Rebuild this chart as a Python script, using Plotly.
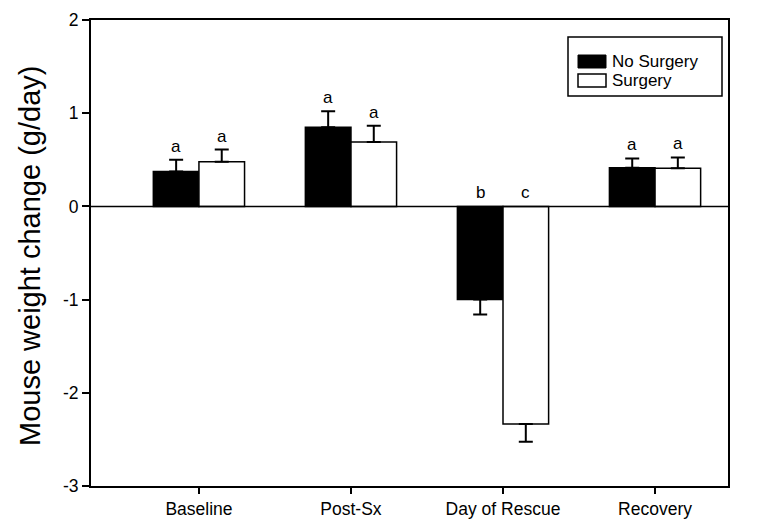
import plotly.graph_objects as go

categories = ["Baseline", "Post-Sx", "Day of Rescue", "Recovery"]
no_surgery = [0.375, 0.85, -1.0, 0.415]
no_surgery_err = [0.125, 0.17, 0.16, 0.10]
surgery = [0.48, 0.69, -2.335, 0.41]
surgery_err = [0.13, 0.175, 0.19, 0.115]
letters_no = ["a", "a", "b", "a"]
letters_sx = ["a", "a", "c", "a"]
y_ticks = [-3, -2, -1, 0, 1, 2]
y_ticklabels = ["-3", "-2", "-1", "0", "1", "2"]

FONT = "Arial, Liberation Sans, sans-serif"
xpos = list(range(len(categories)))

W, H = 760, 520
# target plot box in screen pixels
X0, X1, Y0, Y1 = 83, 720, 12, 478
L, T = X0, Y0
R, B = W - X1, H - Y1
PW, PH = X1 - X0, Y1 - Y0


def err_arrays(vals, errs):
    up = [e if v >= 0 else 0 for v, e in zip(vals, errs)]
    down = [e if v < 0 else 0 for v, e in zip(vals, errs)]
    return up, down


def px(x):
    return (x - X0) / PW


def py(y):
    return (Y1 - y) / PH


fig = go.Figure()
for name, vals, errs, fill in [("No Surgery", no_surgery, no_surgery_err, "black"),
                               ("Surgery", surgery, surgery_err, "white")]:
    up, down = err_arrays(vals, errs)
    fig.add_trace(go.Bar(
        x=xpos, y=vals, name=name,
        marker=dict(color=fill, line=dict(color="black", width=1.5)),
        error_y=dict(type="data", symmetric=False, array=up, arrayminus=down,
                     color="black", thickness=2, width=7),
    ))

# significance letters
offset = 0.15
for i in range(len(categories)):
    for vals, errs, letters, dx in [(no_surgery, no_surgery_err, letters_no, -offset),
                                    (surgery, surgery_err, letters_sx, offset)]:
        top = vals[i] + errs[i] if vals[i] >= 0 else 0
        fig.add_annotation(x=xpos[i] + dx, y=top, text=letters[i], showarrow=False,
                           yanchor="bottom", yshift=2,
                           font=dict(family=FONT, size=17, color="black"))

# zero line
fig.add_shape(type="line", xref="paper", x0=0, x1=1, yref="y", y0=0, y1=0,
              line=dict(color="black", width=1.5), layer="above")

# manual legend
fig.add_shape(type="rect", xref="paper", yref="paper",
              x0=px(560), x1=px(714), y0=py(88), y1=py(29),
              line=dict(color="black", width=1.5), fillcolor="white")
fig.add_shape(type="rect", xref="paper", yref="paper",
              x0=px(570), x1=px(598), y0=py(60), y1=py(47),
              line=dict(color="black", width=1), fillcolor="black")
fig.add_shape(type="rect", xref="paper", yref="paper",
              x0=px(570), x1=px(598), y0=py(79), y1=py(66),
              line=dict(color="black", width=1.5), fillcolor="white")
for txt, yc in [("No Surgery", 53), ("Surgery", 72)]:
    fig.add_annotation(xref="paper", yref="paper", x=px(602), y=py(yc),
                       text=txt, showarrow=False, xanchor="left", yanchor="middle",
                       font=dict(family=FONT, size=17, color="black"))

# y-axis title
fig.add_annotation(xref="paper", yref="paper", x=px(22), y=py(248),
                   text="Mouse weight change (g/day)", showarrow=False, textangle=-90,
                   xanchor="center", yanchor="middle",
                   font=dict(family=FONT, size=29, color="black"))

fig.update_layout(
    width=W, height=H,
    margin=dict(l=L, r=R, t=T, b=B, autoexpand=False),
    paper_bgcolor="white", plot_bgcolor="white",
    barmode="group", bargap=0.4, bargroupgap=0,
    showlegend=False,
    font=dict(family=FONT, color="black"),
    xaxis=dict(range=[-0.71, 3.48], tickvals=xpos, ticktext=categories,
               ticks="outside", ticklen=6, tickwidth=1.5, tickcolor="black",
               showline=True, linecolor="black", linewidth=2, mirror=True,
               showgrid=False, zeroline=False, automargin=False,
               tickfont=dict(family=FONT, size=17.5, color="black")),
    yaxis=dict(range=[-3, 2], tickvals=y_ticks, ticktext=y_ticklabels,
               ticks="outside", ticklen=7, tickwidth=1.5, tickcolor="black",
               showline=True, linecolor="black", linewidth=2, mirror=True,
               showgrid=False, zeroline=False, automargin=False,
               tickfont=dict(family=FONT, size=17.5, color="black")),
)

fig.write_html("out.html")
